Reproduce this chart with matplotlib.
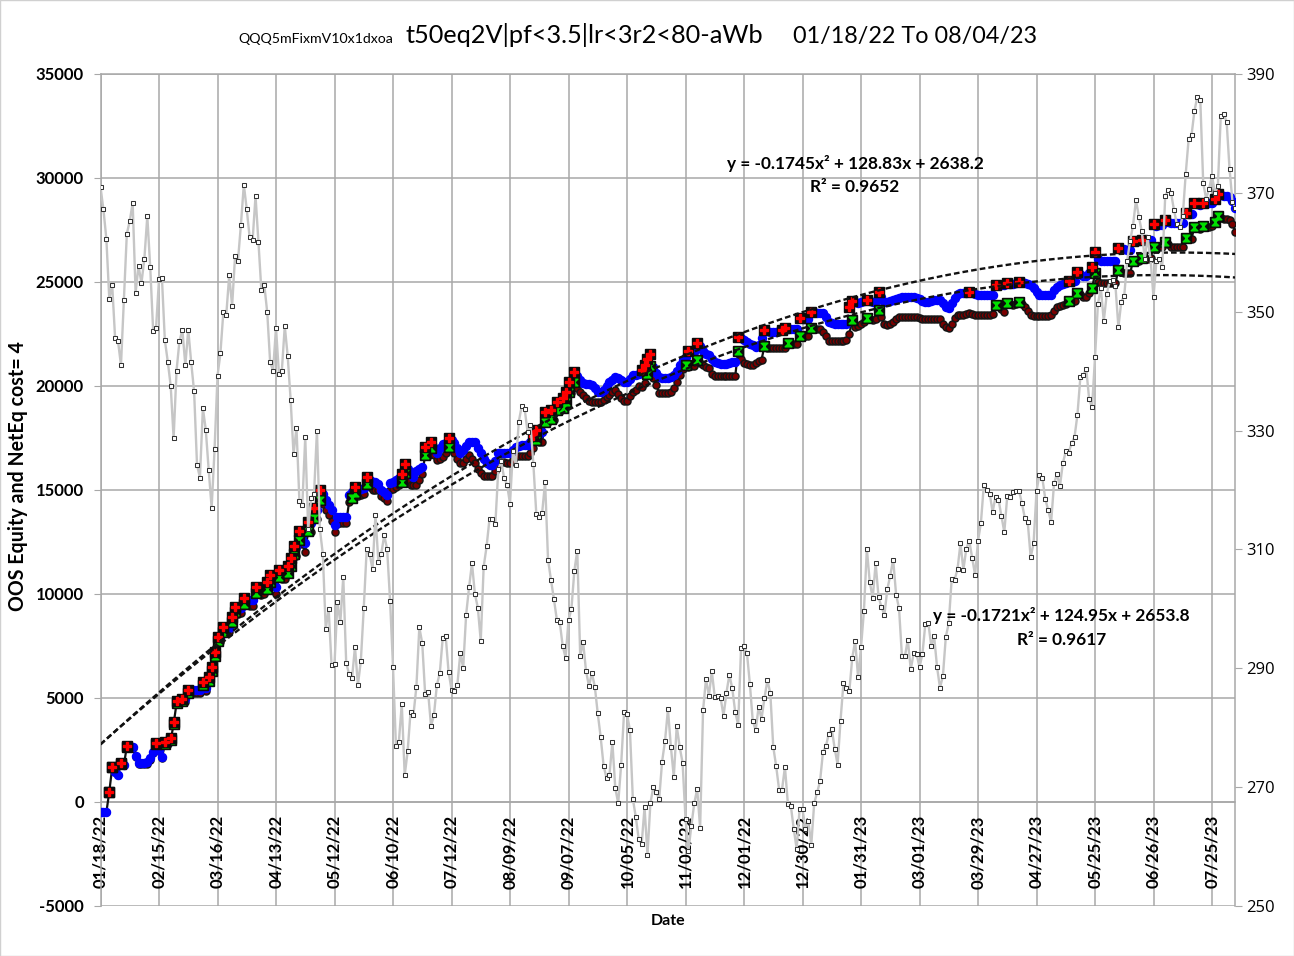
import matplotlib
matplotlib.use("Agg")
import matplotlib.pyplot as plt
import numpy as np
from matplotlib.path import Path
from matplotlib.patches import Rectangle

plt.rcParams['font.family'] = ['Lato', 'DejaVu Sans']
plt.rcParams['axes.unicode_minus'] = False

# ---------------- data ----------------
tick_labels = ['01/18/22', '02/15/22', '03/16/22', '04/13/22', '05/12/22', '06/10/22',
               '07/12/22', '08/09/22', '09/07/22', '10/05/22', '11/02/22', '12/01/22',
               '12/30/22', '01/31/23', '03/01/23', '03/29/23', '04/27/23', '05/25/23',
               '06/26/23', '07/25/23']

# QQQ close (right axis), one value per trading day
qqq = (
    [371.0, 367.2, 362.3, 352.2, 354.5, 345.5, 345.0, 341.0, 351.9, 363.1, 365.3, 368.3, 353.2, 357.7, 354.8, 358.9, 366.1, 357.5, 346.8, 347.3] +
    [355.5, 355.7, 345.2, 341.6, 337.5, 328.7, 340.1, 345.1, 346.9, 341.0, 347.0, 341.5, 336.6, 324.2, 322.1, 333.8, 330.1, 323.3, 317.0, 326.9] +
    [339.2, 343.0, 350.0, 349.5, 356.1, 351.0, 359.3, 358.6, 364.6, 371.4, 367.2, 362.5, 362.0, 369.5, 361.7, 353.6, 354.5, 349.9, 341.5, 340.1] +
    [347.3, 339.6, 340.1, 347.6, 342.5, 335.2, 326.0, 330.5, 318.2, 317.5, 328.9, 313.4, 318.6, 319.3, 330.0, 313.4, 309.3, 296.6, 300.0, 290.5] +
    [290.7, 301.1, 297.8, 305.4, 290.9, 289.0, 288.4, 293.6, 287.2, 291.2, 300.1, 310.0, 309.2, 306.7, 315.8, 307.9, 309.3, 312.4, 310.0, 301.4] +
    [290.3, 277.0, 277.6, 284.0, 272.0, 276.0, 282.7, 282.2, 286.9, 296.9, 294.2, 285.6, 286.0, 280.3, 282.1, 287.2, 289.2, 295.1, 295.5, 289.4] +
    [286.4, 286.1, 287.2, 292.5, 290.1, 299.0, 303.6, 307.7, 302.5, 300.2, 294.6, 307.1, 310.5, 315.2, 315.2, 314.3, 323.5, 324.8, 322.0, 320.9] +
    [317.7, 326.6, 324.2, 331.5, 334.1, 333.7, 329.8, 331.0, 324.3, 315.9, 315.5, 316.2, 321.4, 308.3, 304.9, 301.7, 298.2, 297.8, 293.8, 291.8] +
    [298.1, 300.0, 306.4, 309.8, 292.1, 294.4, 289.5, 287.0, 289.2, 286.9, 282.4, 278.4, 273.6, 271.5, 272.0, 277.6, 269.8, 267.3, 273.8, 282.6] +
    [282.3, 279.6, 268.0, 265.0, 261.3, 260.4, 266.6, 258.6, 267.3, 270.0, 269.1, 268.0, 274.3, 277.8, 283.1, 276.8, 271.7, 280.3, 276.8, 274.1] +
    [264.7, 259.3, 263.5, 267.3, 269.7, 263.1, 282.9, 288.2, 285.4, 289.5, 285.2, 285.3, 285.0, 282.0, 285.9, 288.9, 286.6, 282.6, 280.5, 293.4] +
    [293.7, 292.6, 287.4, 281.1, 279.6, 283.5, 281.5, 285.0, 288.0, 285.8, 276.8, 273.5, 269.6, 269.6, 273.4, 267.2, 266.9, 263.0, 259.6, 266.3] +
    [266.3, 263.0, 264.3, 260.3, 267.3, 269.1, 271.0, 275.9, 276.9, 279.0, 279.8, 276.5, 273.8, 281.2, 287.5, 286.7, 286.1, 291.7, 294.6, 288.5] +
    [293.5, 299.6, 310.1, 304.5, 301.8, 307.7, 302.0, 300.3, 299.0, 303.3, 305.6, 308.3, 302.4, 300.1, 292.0, 292.0, 294.8, 289.8, 292.5, 292.4] +
    [290.2, 292.4, 297.5, 297.7, 293.8, 295.4, 290.2, 286.7, 288.7, 295.3, 297.6, 305.0, 304.9, 306.7, 311.0, 306.6, 310.1, 311.5, 308.6, 305.7] +
    [311.4, 314.5, 320.9, 320.0, 319.4, 316.3, 318.9, 318.4, 315.6, 312.9, 319.0, 318.8, 319.7, 319.9, 319.9, 317.8, 315.3, 314.6, 308.7, 311.0] +
    [319.8, 322.6, 322.0, 318.5, 316.6, 314.6, 321.1, 322.7, 320.6, 324.5, 326.5, 326.3, 327.9, 328.9, 332.7, 339.0, 339.3, 340.4, 335.3, 333.9] +
    [342.3, 351.3, 354.0, 348.4, 352.9, 355.1, 355.3, 354.3, 347.4, 351.7, 352.7, 358.6, 361.9, 364.5, 368.8, 366.0, 363.5, 358.9, 362.5, 358.8] +
    [352.4, 358.6, 358.8, 357.6, 369.4, 370.5, 370.0, 367.1, 364.7, 364.2, 366.1, 373.1, 379.0, 379.7, 383.8, 386.2, 385.6, 371.6, 369.0, 370.7] +
    [372.9, 370.0, 371.1, 383.0, 383.2, 382.0, 374.0, 368.5, 367.5]
)

# OOS equity (blue)
equity = (
    [-500, -500, -500, 500, 1680, 1450, 1300, 1870, 1800, 2700, 2650, 2640, 2200, 1870, 1870, 1870, 1900, 2100, 2420, 2850] +
    [2500, 2180, 2900, 2880, 3070, 3860, 4870, 4850, 4970, 4950, 5380, 5380, 5380, 5380, 5380, 5780, 5500, 6020, 6490, 7230] +
    [7950, 7900, 8400, 8350, 8380, 8880, 9390, 9300, 9350, 9790, 9750, 9710, 9700, 10350, 10300, 10250, 10300, 10560, 10910, 10700] +
    [10350, 11150, 11100, 11050, 11360, 11710, 12300, 12250, 13030, 12800, 12450, 13480, 13400, 14120, 14050, 15000, 14800, 14520, 14300, 14040] +
    [13320, 13700, 13720, 13720, 13720, 14760, 14900, 15130, 15000, 15050, 15100, 15610, 15500, 15400, 15400, 15300, 15000, 14900, 14760, 15320] +
    [15400, 15500, 15600, 15770, 16230, 16000, 15800, 15640, 15900, 16000, 16120, 17050, 17000, 17290, 17000, 16790, 17000, 17200, 17250, 17490] +
    [17400, 17250, 17000, 16760, 16900, 17100, 17320, 17330, 17320, 17000, 16780, 16500, 16280, 16200, 16200, 16400, 16760, 16760, 16760, 16760] +
    [16760, 16900, 17080, 17100, 17150, 17160, 17160, 17300, 17600, 17880, 17700, 17800, 18760, 18700, 18850, 18800, 19250, 19200, 19400, 19720] +
    [20200, 20150, 20690, 20500, 20300, 20130, 20100, 20100, 20050, 19900, 19720, 19720, 19800, 20000, 20200, 20300, 20440, 20400, 20300, 20200] +
    [20200, 20350, 20530, 20550, 20600, 20770, 21000, 21280, 21540, 20900, 20610, 20450, 20370, 20370, 20400, 20450, 20530, 20700, 21000, 21250] +
    [21400, 21700, 21680, 21650, 22050, 21900, 21700, 21550, 21490, 21300, 21170, 21100, 21060, 21060, 21060, 21100, 21150, 21170, 22370, 22300] +
    [22200, 22130, 22000, 21950, 21890, 21950, 22300, 22690, 22650, 22620, 22610, 22610, 22650, 22700, 22770, 22760, 22740, 22750, 22760, 23250] +
    [23200, 23220, 23240, 23570, 23550, 23530, 23530, 23530, 23300, 23100, 23010, 23000, 22970, 22970, 22970, 22970, 23810, 24100, 24050, 24000] +
    [24050, 24080, 24130, 24100, 24050, 24100, 24500, 24300, 24050, 24050, 24100, 24150, 24200, 24250, 24280, 24280, 24280, 24280, 24280, 24250] +
    [24200, 24100, 24050, 24050, 24100, 24130, 24130, 24130, 24000, 23800, 23730, 24000, 24210, 24400, 24460, 24460, 24460, 24530, 24500, 24400] +
    [24380, 24380, 24380, 24380, 24380, 24380, 24860, 24840, 24850, 24850, 24940, 24920, 24900, 24930, 25010, 25000, 24950, 24900, 24860, 24700] +
    [24500, 24380, 24380, 24380, 24380, 24380, 24600, 24780, 24850, 24900, 24950, 25050, 25000, 25030, 25490, 25400, 25300, 25300, 25450, 25700] +
    [26460, 26100, 26030, 26030, 26030, 26030, 26030, 26030, 26620, 26600, 26570, 26550, 26520, 26990, 26950, 26960, 27020, 27000, 27010, 27000] +
    [27790, 27700, 27750, 27760, 27980, 27900, 27820, 27820, 27820, 27820, 27820, 28300, 28250, 28280, 28780, 28750, 28700, 28800, 28780, 28790] +
    [28800, 28970, 29230, 29200, 29150, 29150, 29100, 28900, 28540]
)

# Net equity after cost (dark)
net_equity = (
    [-500, -500, -500, 490, 1660, 1430, 1280, 1840, 1800, 2660, 2610, 2600, 2150, 1820, 1820, 1820, 1850, 2040, 2360, 2780] +
    [2430, 2100, 2810, 2790, 2970, 3750, 4750, 4730, 4840, 4820, 5230, 5230, 5230, 5230, 5230, 5610, 5350, 5840, 6300, 7030] +
    [7740, 7700, 8170, 8120, 8150, 8630, 9130, 9050, 9100, 9510, 9470, 9420, 9410, 10050, 10000, 9940, 10000, 10240, 10580, 10370] +
    [10010, 10800, 10740, 10700, 10990, 11330, 11910, 11850, 12620, 12380, 12020, 13040, 12980, 13660, 13600, 14520, 14310, 14020, 13800, 13530] +
    [13000, 13380, 13430, 13430, 13430, 14440, 14600, 14840, 14700, 14750, 14800, 15290, 15150, 15000, 15000, 15000, 14700, 14600, 14480, 15000] +
    [15050, 15150, 15250, 15400, 15800, 15500, 15240, 15240, 15240, 15500, 15770, 16680, 16650, 17000, 16700, 16440, 16500, 16600, 16800, 17080] +
    [16950, 16760, 16500, 16320, 16320, 16500, 16680, 16500, 16280, 16000, 15800, 15690, 15690, 15690, 15690, 15900, 16200, 16360, 16330, 16310] +
    [16310, 16450, 16630, 16630, 16630, 16630, 16630, 16800, 17000, 17400, 17300, 17320, 18280, 18250, 18400, 18350, 18850, 18800, 18950, 19250] +
    [19720, 19650, 20200, 19900, 19700, 19550, 19400, 19300, 19250, 19250, 19250, 19250, 19350, 19450, 19550, 19700, 19810, 19600, 19400, 19280] +
    [19280, 19500, 19700, 19810, 20000, 19950, 20150, 20600, 20960, 20370, 20050, 19680, 19680, 19680, 19680, 19700, 19900, 20200, 20530, 20800] +
    [21010, 20900, 20950, 20980, 21240, 21100, 21000, 20900, 20850, 20600, 20480, 20480, 20480, 20480, 20480, 20480, 20480, 20480, 21700, 21300] +
    [21090, 21050, 21000, 21010, 21100, 21200, 21270, 21920, 21850, 21820, 21810, 21810, 21810, 21810, 21810, 22050, 22000, 22020, 22030, 22400] +
    [22350, 22380, 22390, 22770, 22750, 22740, 22720, 22600, 22400, 22170, 22170, 22170, 22170, 22170, 22170, 22200, 22500, 23170, 22850, 22900] +
    [23000, 23100, 23250, 23200, 23150, 23200, 23650, 23300, 23000, 22930, 23000, 23090, 23200, 23300, 23330, 23330, 23330, 23330, 23330, 23300] +
    [23250, 23210, 23210, 23210, 23210, 23210, 23210, 23210, 23000, 22850, 22770, 23000, 23250, 23400, 23410, 23430, 23450, 23500, 23450, 23420] +
    [23420, 23410, 23410, 23410, 23420, 23450, 23890, 23850, 23700, 23570, 24000, 23950, 23900, 23950, 24050, 23950, 23800, 23600, 23400, 23360] +
    [23360, 23360, 23360, 23360, 23360, 23400, 23600, 23810, 23850, 23900, 23950, 24090, 24050, 24070, 24490, 24400, 24300, 24300, 24450, 24690] +
    [25410, 25000, 24940, 24940, 24940, 24940, 24940, 24940, 25600, 25500, 25450, 25410, 25410, 26020, 25980, 26000, 26140, 26100, 26120, 26130] +
    [26700, 26650, 26690, 26690, 26940, 26850, 26700, 26700, 26700, 26700, 26700, 27100, 27050, 27080, 27660, 27600, 27550, 27680, 27650, 27660] +
    [27680, 27900, 28170, 28100, 28050, 28010, 28000, 27800, 27420]
)

# quadratic trendlines shown on the chart (x = 1-based bar number)
trend_eq = [-0.1745, 128.83, 2638.2]
trend_net = [-0.1721, 124.95, 2653.8]
trend_eq_text = ['y = -0.1745x\u00b2 + 128.83x + 2638.2', 'R\u00b2 = 0.9652']
trend_net_text = ['y = -0.1721x\u00b2 + 124.95x + 2653.8', 'R\u00b2 = 0.9617']

title_small = 'QQQ5mFixmV10x1dxoa'
title_main = 't50eq2V|pf<3.5|lr<3r2<80-aWb'
title_dates = '01/18/22 To 08/04/23'

# ---------------- figure ----------------
W, H = 1294, 956
fig = plt.figure(figsize=(W / 100, H / 100), dpi=100)
fig.patches.append(Rectangle((0, 0), 1, 1, transform=fig.transFigure, fill=False,
                             edgecolor='#d0d0d0', lw=1.0))
L, R, T, B = 100.5, 1235.4, 74, 906
ax = fig.add_axes([L / W, 1 - B / H, (R - L) / W, (B - T) / H])

E = np.array(equity, float)
N = np.array(net_equity, float)
x = np.arange(len(E))


def new_highs(v):
    prev = np.maximum.accumulate(np.r_[-np.inf, v[:-1]])
    out = np.where(v > prev, v, np.nan)
    out[0] = np.nan
    return out


eq_high = new_highs(E)
net_high = new_highs(N)

grid_c = '#a8a8a8'
ax.set_xlim(0, len(x) - 1)
ax.set_ylim(-5000, 35000)
ax.spines['bottom'].set_position(('data', 0))
for s in ax.spines.values():
    s.set_color(grid_c)
    s.set_linewidth(1.1)
yt = np.arange(-5000, 35001, 5000)
ax.set_yticks(yt, labels=[str(int(v)) for v in yt], fontweight='bold', fontsize=12)
ax.set_xticks(np.arange(0, len(x), 20)[:len(tick_labels)], labels=tick_labels,
              rotation=90, fontweight='bold', fontsize=12)
ax.tick_params(axis='y', direction='out', length=5, color=grid_c, pad=7)
ax.tick_params(axis='x', length=0, pad=9.5)
ax.grid(True, color=grid_c, lw=1.1)
ax.set_axisbelow(True)

# series
ax.plot(x, N, color='#101010', lw=1.6, marker='o', ms=5.0, mfc='#7a0000', mec='#151515',
        mew=1.1, zorder=3)
ax.plot(x, E, ls='none', marker='o', ms=5.8, mfc='#0000ff', mec='#0000ff', zorder=4)
hourglass = Path([(-1, 1), (1, 1), (-1, -1), (1, -1), (-1, 1)],
                 [Path.MOVETO, Path.LINETO, Path.LINETO, Path.LINETO, Path.CLOSEPOLY])
ax.plot(x, net_high, ls='none', marker='s', ms=6.9, color='#0a0a0a', zorder=5)
ax.plot(x, net_high, ls='none', marker=hourglass, ms=4.8, color='#00e000', zorder=5.1)
ax.plot(x, eq_high, ls='none', marker='s', ms=6.9, color='#0a0a0a', zorder=6)
ax.plot(x, eq_high, ls='none', marker='P', ms=5.6, color='#ff0000', mec='#ff0000', zorder=6.1)

xs = x + 1.0
for c in (trend_eq, trend_net):
    ax.plot(x, c[0] * xs ** 2 + c[1] * xs + c[2], color='#111111', lw=1.7,
            dashes=(2.4, 1.3), zorder=7)

# right axis with QQQ
ax2 = ax.twinx()
ax2.set_ylim(250, 390)
yt2 = np.arange(250, 391, 20)
ax2.set_yticks(yt2, labels=[str(int(v)) for v in yt2], fontsize=12,
               fontfamily=['Open Sans', 'DejaVu Sans'])
for s in ax2.spines.values():
    s.set_visible(False)
ax2.tick_params(axis='y', direction='out', length=5, color=grid_c, pad=3)
ax2.plot(x, qqq, color='#c6c6c6', lw=1.7, marker='s', ms=3.0, mfc='white',
         mec='#333333', mew=0.75, zorder=3)

# texts
renderer = fig.canvas.get_renderer()


def fit(t, target, use_height=False):
    bb = t.get_window_extent(renderer)
    cur = bb.height if use_height else bb.width
    t.set_fontsize(t.get_fontsize() * target / cur)


def ftext(px, py, s, **kw):
    return fig.text(px / W, 1 - py / H, s, **kw)


t1 = ftext(393, 43, title_small, ha='right', va='baseline', fontsize=9)
fit(t1, 155)
t2 = ftext(405, 43, title_main, ha='left', va='baseline', fontsize=16)
fit(t2, 358)
t3 = ftext(793, 43, title_dates, ha='left', va='baseline', fontsize=16)
fit(t3, 244)

a1 = ftext(855, 164, trend_eq_text[0], ha='center', va='center', fontweight='bold', fontsize=11)
fit(a1, 257)
a2 = ftext(855, 187, trend_eq_text[1], ha='center', va='center', fontweight='bold',
           fontsize=a1.get_fontsize())
b1 = ftext(1061, 616, trend_net_text[0], ha='center', va='center', fontweight='bold', fontsize=11)
fit(b1, 257)
b2 = ftext(1062, 640, trend_net_text[1], ha='center', va='center', fontweight='bold',
           fontsize=b1.get_fontsize())

yl = ftext(18, 476, 'OOS Equity and NetEq cost= 4', rotation=90, ha='center', va='center',
           fontweight='bold', fontsize=11)
fit(yl, 268, use_height=True)
ftext(668, 921, 'Date', ha='center', va='center', fontweight='bold', fontsize=11.5)

fig.savefig('out.png', dpi=100)
